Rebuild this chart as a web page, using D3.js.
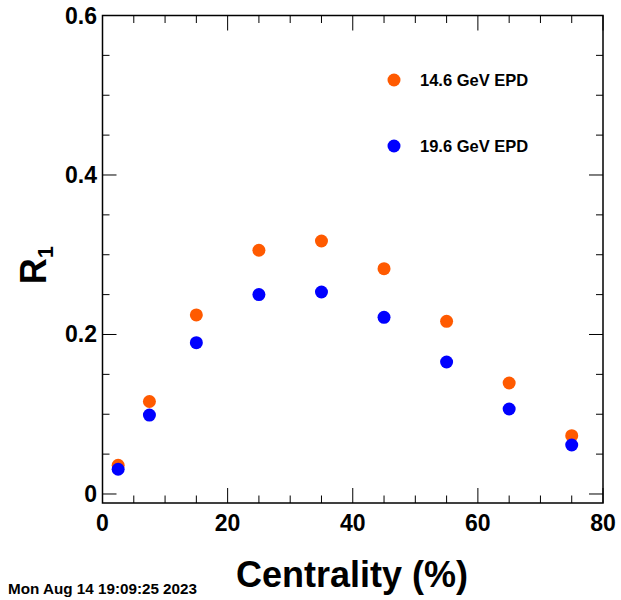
<!DOCTYPE html>
<html><head><meta charset="utf-8">
<script src="https://cdn.jsdelivr.net/npm/d3@7"></script>
<style>body{margin:0;background:#fff}svg{display:block}text{font-family:"Liberation Sans",Arial,sans-serif;font-weight:bold}</style>
</head><body><svg id="c" width="621" height="600"></svg>
<script>
const centrality = [2.5, 7.5, 15, 25, 35, 45, 55, 65, 75];
const r1_146 = [0.036, 0.116, 0.2245, 0.3056, 0.3172, 0.2825, 0.2165, 0.1392, 0.0731];
const r1_196 = [0.031, 0.099, 0.1897, 0.250, 0.2533, 0.2215, 0.1655, 0.1066, 0.0614];
const seriesNames = ["14.6 GeV EPD", "19.6 GeV EPD"];
const seriesColors = ["#ff5a00", "#0000ff"];
const xTicks = [0, 20, 40, 60, 80];
const yTicks = [0, 0.2, 0.4, 0.6];

const svg = d3.select("#c");
const L = 102.5, R = 603, T = 15.5, B = 503;
const x = d3.scaleLinear().domain([0, 80]).range([L, R]);
const y = d3.scaleLinear().domain([-0.0113, 0.6]).range([B, T]);

const g = svg.append("g");
const xMinor = d3.range(0, 80.01, 5);
const yMinor = d3.range(0, 0.6001, 0.05);
const isMajX = v => xTicks.some(t => Math.abs(t - v) < 1e-6);
const isMajY = v => yTicks.some(t => Math.abs(t - v) < 1e-6);
xMinor.forEach(v => {
  const len = isMajX(v) ? 15 : 7.5;
  g.append("line").attr("x1", x(v)).attr("x2", x(v)).attr("y1", B).attr("y2", B - len).attr("stroke", "#000").attr("stroke-width", 1);
  g.append("line").attr("x1", x(v)).attr("x2", x(v)).attr("y1", T).attr("y2", T + len).attr("stroke", "#000").attr("stroke-width", 1);
});
yMinor.forEach(v => {
  const len = isMajY(v) ? 14 : 7;
  g.append("line").attr("x1", L).attr("x2", L + len).attr("y1", y(v)).attr("y2", y(v)).attr("stroke", "#000").attr("stroke-width", 1);
  g.append("line").attr("x1", R).attr("x2", R - len).attr("y1", y(v)).attr("y2", y(v)).attr("stroke", "#000").attr("stroke-width", 1);
});
g.append("rect").attr("x", L).attr("y", T).attr("width", R - L).attr("height", B - T)
  .attr("fill", "none").attr("stroke", "#000").attr("stroke-width", 1.5);

xTicks.forEach(v => {
  svg.append("text").attr("x", x(v)).attr("y", 531).attr("text-anchor", "middle")
    .attr("font-size", 23).text(d3.format("d")(v));
});
yTicks.forEach(v => {
  svg.append("text").attr("x", 97).attr("y", y(v) + 8).attr("text-anchor", "end")
    .attr("font-size", 23).text(v === 0 ? "0" : d3.format(".1f")(v));
});

svg.append("text").attr("x", 352).attr("y", 587).attr("text-anchor", "middle")
  .attr("font-size", 36).text("Centrality (%)");
const yl = svg.append("text").attr("transform", "translate(46,265) rotate(-90)").attr("text-anchor", "middle").attr("font-size", 36);
yl.append("tspan").text("R");
yl.append("tspan").attr("font-size", 22).attr("dy", 7).text("1");

svg.append("text").attr("x", 8).attr("y", 594).attr("font-size", 14)
  .attr("textLength", 189).attr("lengthAdjust", "spacingAndGlyphs").text("Mon Aug 14 19:09:25 2023");

const allSeries = [r1_146, r1_196];
allSeries.forEach((vals, i) => {
  svg.append("g").selectAll("circle").data(vals).join("circle")
    .attr("cx", (d, j) => x(centrality[j])).attr("cy", d => y(d)).attr("r", 6.5)
    .attr("fill", seriesColors[i]);
});

const legY = [80, 146];
seriesNames.forEach((n, i) => {
  svg.append("circle").attr("cx", 394).attr("cy", legY[i]).attr("r", 6.5).attr("fill", seriesColors[i]);
  svg.append("text").attr("x", 420).attr("y", legY[i] + 6).attr("font-size", 16.5).text(n);
});
</script></body></html>
